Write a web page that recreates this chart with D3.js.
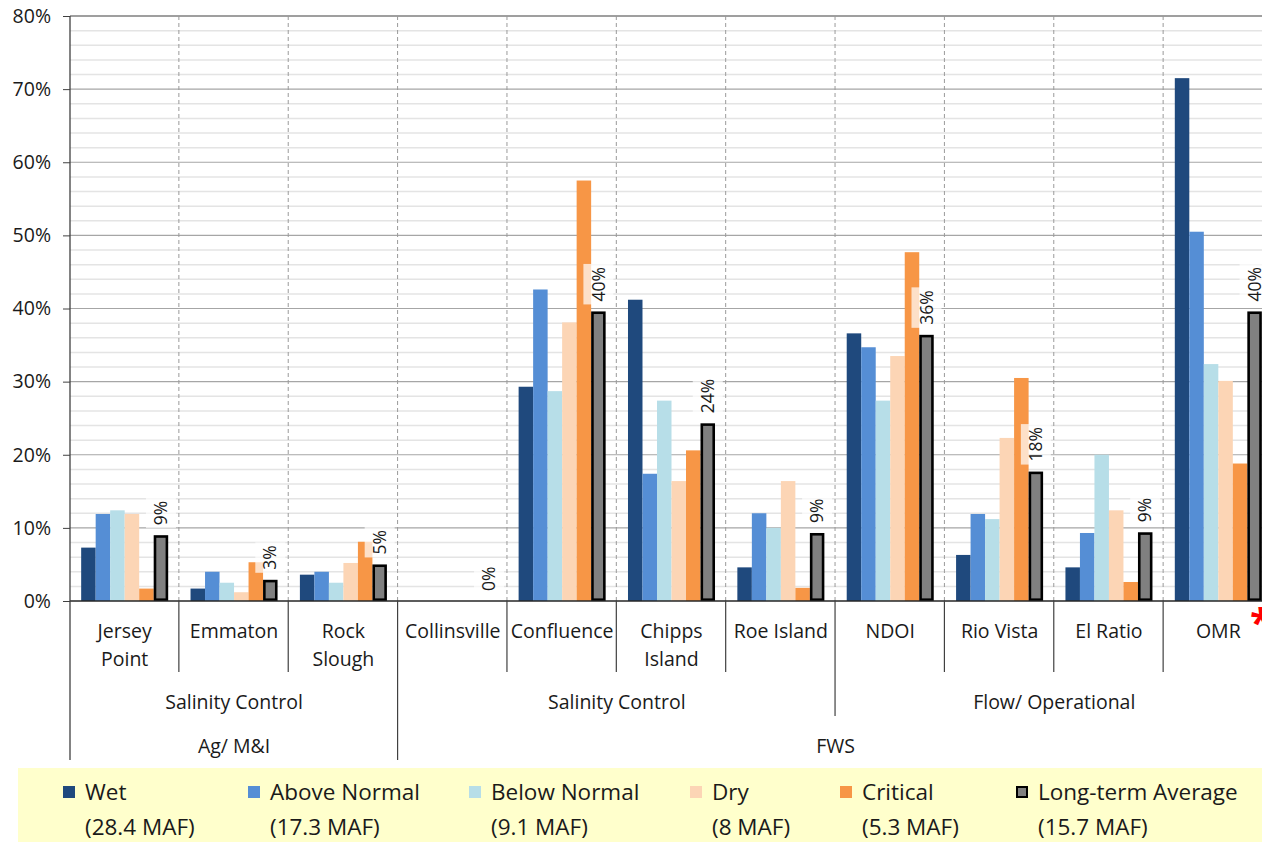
<!DOCTYPE html>
<html>
<head>
<meta charset="utf-8">
<script src="https://cdn.jsdelivr.net/npm/d3@7"></script>
<style>
  html, body { margin: 0; padding: 0; background: #fff; overflow: hidden; }
  svg { display: block; font-family: "Open Sans", "DejaVu Sans", sans-serif; }
</style>
</head>
<body>
<svg id="chart" width="1262" height="842"></svg>
<script>
// ---------------- DATA ----------------
const categories = ["Jersey Point", "Emmaton", "Rock Slough", "Collinsville", "Confluence",
  "Chipps Island", "Roe Island", "NDOI", "Rio Vista", "El Ratio", "OMR"];
const categoryLines = [["Jersey", "Point"], ["Emmaton"], ["Rock", "Slough"], ["Collinsville"],
  ["Confluence"], ["Chipps", "Island"], ["Roe Island"], ["NDOI"], ["Rio Vista"], ["El Ratio"], ["OMR"]];
const seriesNames = ["Wet", "Above Normal", "Below Normal", "Dry", "Critical", "Long-term Average"];
const seriesVolumes = ["(28.4 MAF)", "(17.3 MAF)", "(9.1 MAF)", "(8 MAF)", "(5.3 MAF)", "(15.7 MAF)"];

const wet         = [7.3, 1.7, 3.6, 0, 29.3, 41.2, 4.6, 36.6, 6.3, 4.6, 71.5];
const aboveNormal = [11.9, 4.0, 4.0, 0, 42.6, 17.4, 12.0, 34.7, 11.9, 9.3, 50.5];
const belowNormal = [12.4, 2.5, 2.5, 0, 28.7, 27.4, 10.0, 27.4, 11.2, 20.0, 32.4];
const dry         = [11.9, 1.2, 5.2, 0, 38.1, 16.4, 16.4, 33.5, 22.3, 12.4, 30.1];
const critical    = [1.7, 5.3, 8.1, 0, 57.5, 20.6, 1.8, 47.7, 30.5, 2.6, 18.8];
const longTermAvg = [9.0, 2.9, 5.0, 0, 39.6, 24.3, 9.3, 36.4, 17.7, 9.4, 39.6];
const avgLabels   = ["9%", "3%", "5%", "0%", "40%", "24%", "9%", "36%", "18%", "9%", "40%"];

const yTickValues = [0, 10, 20, 30, 40, 50, 60, 70, 80];
const yMinorValues = [2, 4, 6, 8, 12, 14, 16, 18, 22, 24, 26, 28, 32, 34, 36, 38, 42, 44, 46, 48,
  52, 54, 56, 58, 62, 64, 66, 68, 72, 74, 76, 78];

const level2Groups = [
  { label: "Salinity Control", first: "Jersey Point", last: "Rock Slough" },
  { label: "Salinity Control", first: "Collinsville", last: "Roe Island" },
  { label: "Flow/ Operational", first: "NDOI", last: "OMR" }
];
const level3Groups = [
  { label: "Ag/ M&I", first: "Jersey Point", last: "Rock Slough" },
  { label: "FWS", first: "Collinsville", last: "OMR" }
];

const seriesColors = ["#1F497D", "#558ED5", "#B7DEE8", "#FCD5B5", "#F79646", "#808080"];

// ---------------- LAYOUT ----------------
const svg = d3.select("#chart");
const plot = { left: 70, right: 1273, top: 16, bottom: 601 };
const textColor = "#1a1a1a";

const x = d3.scaleBand().domain(categories).range([plot.left, plot.right]).padding(0);
const xs = d3.scaleBand().domain(seriesNames).range([0, x.bandwidth()]).paddingInner(0).paddingOuter(0.77);
const y = d3.scaleLinear().domain([0, 80]).range([plot.bottom, plot.top]);
const color = d3.scaleOrdinal().domain(seriesNames).range(seriesColors);

const seriesData = [wet, aboveNormal, belowNormal, dry, critical, longTermAvg];
const rows = categories.map((c, i) => ({
  category: c,
  values: seriesNames.map((s, j) => ({ series: s, value: seriesData[j][i] }))
}));

// Gridlines
svg.append("g").selectAll("line").data(yMinorValues).join("line")
  .attr("x1", plot.left).attr("x2", plot.right)
  .attr("y1", d => y(d)).attr("y2", d => y(d))
  .attr("stroke", "#E4E4E4").attr("stroke-width", 1.5);
svg.append("g").selectAll("line").data(yTickValues.filter(d => d > 0 && d < 80)).join("line")
  .attr("x1", plot.left).attr("x2", plot.right)
  .attr("y1", d => y(d)).attr("y2", d => y(d))
  .attr("stroke", "#A6A6A6").attr("stroke-width", 1.2);
svg.append("line")
  .attr("x1", plot.left).attr("x2", plot.right)
  .attr("y1", y(80)).attr("y2", y(80))
  .attr("stroke", "#404040").attr("stroke-width", 1.2);

// Dashed category separators in plot
svg.append("g").selectAll("line").data(categories.slice(1)).join("line")
  .attr("x1", d => x(d) - 0.5).attr("x2", d => x(d) - 0.5)
  .attr("y1", plot.top).attr("y2", plot.bottom)
  .attr("stroke", "#9A9A9A").attr("stroke-width", 1).attr("stroke-dasharray", "4,3");

// Y axis
const yAxis = d3.axisLeft(y).tickValues(yTickValues).tickFormat(d => d + "%").tickSize(7).tickPadding(12);
const gy = svg.append("g").attr("transform", `translate(${plot.left},0)`).call(yAxis);
gy.select(".domain").remove();
gy.selectAll(".tick line").attr("stroke", "#404040");
gy.selectAll(".tick text").attr("font-family", "Open Sans").attr("font-size", 19.5).attr("fill", textColor);

// Bars
const catG = svg.append("g").selectAll("g").data(rows).join("g")
  .attr("transform", d => `translate(${x(d.category)},0)`);
catG.selectAll("rect").data(d => d.values.filter(v => v.series !== "Long-term Average")).join("rect")
  .attr("x", d => xs(d.series))
  .attr("width", xs.bandwidth())
  .attr("y", d => y(d.value))
  .attr("height", d => y(0) - y(d.value))
  .attr("fill", d => color(d.series));

// Long-term average (outlined)
const sw = 2.6;
catG.selectAll("rect.avg").data(d => d.values.filter(v => v.series === "Long-term Average" && v.value > 0)).join("rect")
  .attr("class", "avg")
  .attr("x", d => xs(d.series) + sw / 2)
  .attr("width", xs.bandwidth() - sw)
  .attr("y", d => y(d.value) + sw / 2)
  .attr("height", d => Math.max(0, y(0) - y(d.value) - sw))
  .attr("fill", color("Long-term Average"))
  .attr("stroke", "#000").attr("stroke-width", sw);

// Value labels on the average bars
const labG = svg.append("g").selectAll("g").data(rows).join("g")
  .attr("transform", (d, i) => {
    const cx = x(d.category) + xs("Long-term Average") + xs.bandwidth() / 2;
    return `translate(${cx},${y(longTermAvg[i]) - 10}) rotate(-90)`;
  });
labG.append("rect").attr("class", "lbg").attr("fill", "#fff").attr("fill-opacity", 0.7);
labG.append("text")
  .attr("font-family", "Open Sans").attr("font-size", 17.5).attr("fill", textColor)
  .attr("dy", "0.35em").attr("text-anchor", "start")
  .text((d, i) => avgLabels[i]);
labG.each(function () {
  const g = d3.select(this);
  const len = g.select("text").node().getComputedTextLength();
  g.select("rect").attr("x", -3).attr("y", -15).attr("width", len + 6).attr("height", 30);
});

// X axis baseline
svg.append("line")
  .attr("x1", plot.left).attr("x2", plot.right)
  .attr("y1", plot.bottom).attr("y2", plot.bottom)
  .attr("stroke", "#262626").attr("stroke-width", 1.5);
// left axis line
svg.append("line")
  .attr("x1", plot.left).attr("x2", plot.left)
  .attr("y1", plot.top).attr("y2", 760)
  .attr("stroke", "#404040").attr("stroke-width", 1.3);

// Category separators below axis
const boundaryDepth = (c) => {
  if (level3Groups.some(g => g.first === c)) return 760;
  if (level2Groups.some(g => g.first === c)) return 716;
  return 672;
};
svg.append("g").selectAll("line").data(categories.slice(1)).join("line")
  .attr("x1", d => x(d) - 0.5).attr("x2", d => x(d) - 0.5)
  .attr("y1", plot.bottom).attr("y2", d => boundaryDepth(d))
  .attr("stroke", "#404040").attr("stroke-width", 1.2);

// Category labels
const catLab = svg.append("g").selectAll("text").data(categories).join("text")
  .attr("x", d => x(d) + x.bandwidth() / 2)
  .attr("y", 631)
  .attr("text-anchor", "middle")
  .attr("font-family", "Open Sans").attr("font-size", 19.5).attr("fill", textColor);
catLab.each(function (d, i) {
  const t = d3.select(this);
  categoryLines[i].forEach((line, k) => {
    t.append("tspan").attr("x", x(d) + x.bandwidth() / 2).attr("y", 631 + k * 28).attr("dy", "0.35em").text(line);
  });
});

// Group labels
const groupCenter = g => (x(g.first) + x(g.last) + x.bandwidth()) / 2;
svg.append("g").selectAll("text").data(level2Groups).join("text")
  .attr("x", groupCenter).attr("y", 702).attr("dy", "0.35em")
  .attr("text-anchor", "middle")
  .attr("font-family", "Open Sans").attr("font-size", 19.5).attr("fill", textColor)
  .text(d => d.label);
svg.append("g").selectAll("text").data(level3Groups).join("text")
  .attr("x", groupCenter).attr("y", 746).attr("dy", "0.35em")
  .attr("text-anchor", "middle")
  .attr("font-family", "Open Sans").attr("font-size", 19.5).attr("fill", textColor)
  .text(d => d.label);

// Red asterisk next to OMR
svg.append("text")
  .attr("x", x("OMR") + x.bandwidth() - 12).attr("y", 637)
  .attr("text-anchor", "middle")
  .attr("font-family", "Open Sans").attr("font-weight", "bold").attr("font-size", 40)
  .attr("fill", "#FF0000").text("*");

// Legend
svg.append("rect").attr("x", 18).attr("y", 768).attr("width", 1262).attr("height", 80).attr("fill", "#FFFFCC");
const legendX = [63, 248, 469, 690, 840, 1016];
const lg = svg.append("g").selectAll("g").data(seriesNames).join("g")
  .attr("transform", (d, i) => `translate(${legendX[i]},0)`);
lg.append("rect")
  .attr("x", d => d === "Long-term Average" ? 1 : 0)
  .attr("y", d => d === "Long-term Average" ? 787 : 786)
  .attr("width", d => d === "Long-term Average" ? 10 : 12)
  .attr("height", d => d === "Long-term Average" ? 10 : 12)
  .attr("fill", d => color(d))
  .attr("stroke", d => d === "Long-term Average" ? "#000" : "none")
  .attr("stroke-width", 2);
lg.append("text").attr("x", 22).attr("y", 792).attr("dy", "0.35em")
  .attr("font-family", "Open Sans").attr("font-size", 22.5).attr("fill", textColor)
  .text(d => d);
lg.append("text").attr("x", 22).attr("y", 827).attr("dy", "0.35em")
  .attr("font-family", "Open Sans").attr("font-size", 22.5).attr("fill", textColor)
  .text((d, i) => seriesVolumes[i]);
</script>
</body>
</html>
